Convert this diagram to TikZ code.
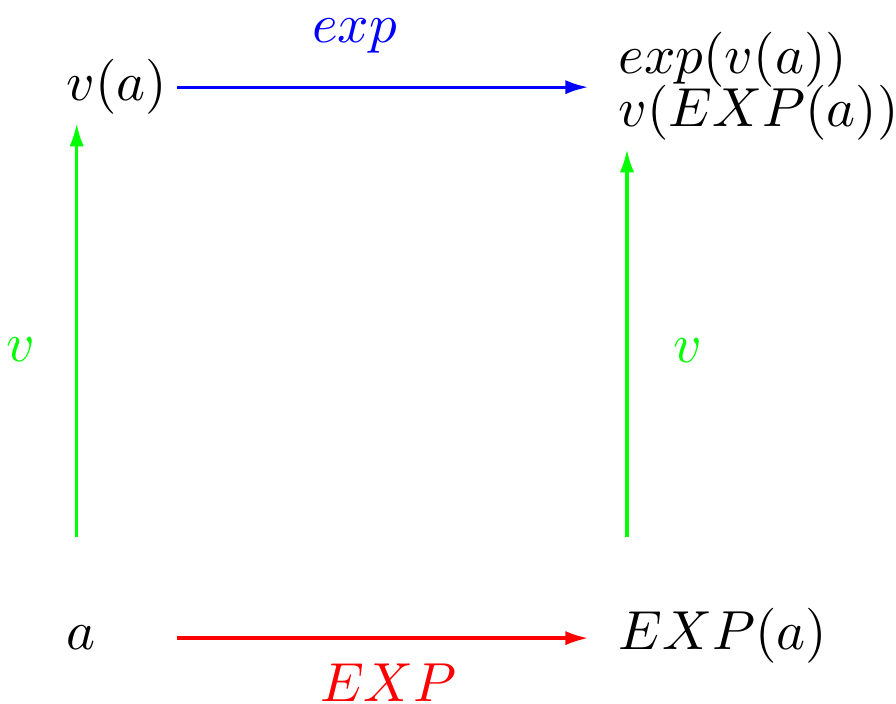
\documentclass[tikz,border=0pt]{standalone}
\usepackage{amsmath,amssymb}
\usepackage{xcolor}
\usepackage{tikz}
\usetikzlibrary{arrows.meta,positioning,calc}

\begin{document}
\begin{tikzpicture}[
    leftcol/.style={anchor=base west, text width=0.585cm},
    maparrow/.style={semithick, -{Latex[length=4.2pt, width=2.6pt]}},
    ]
    \useasboundingbox (0,0) rectangle (5.725,4.492);

    % Objects of the square
    \node[leftcol] (va) at (0.30,3.847) {$v(a)$};
    \node[leftcol] (a) at (0.30,0.339) {$a$};
    \node[anchor=north west, align=left] (top) at (3.83,4.413) {$exp(v(a))$\\[-2.2pt]$v(EXP(a))$};
    \node[anchor=base west] (EXPa) at (3.83,0.339) {$EXP(a)$};

    % Horizontal maps
    \draw[maparrow, blue, shorten >=2pt] (va.east) -- (va.east -| top.west)
        node[pos=0.42, above=0.09cm] (explbl) {$exp$};
    \draw[maparrow, red, shorten >=2pt] (a.east) -- (a.east -| EXPa.west)
        node[pos=0.5, below=0.04cm] (EXPlbl) {$EXP$};

    % Vertical maps
    \draw[maparrow, green, shorten <=0.446cm, shorten >=-0.07cm]
        ([xshift=0.19cm]a.north west) -- ([xshift=0.19cm]va.south west)
        node[pos=0.543, left=0.14cm] (vleft) {$v$};
    \draw[maparrow, green, shorten <=0.334cm, shorten >=-0.07cm]
        ([xshift=0.176cm]EXPa.north west) -- ([xshift=0.176cm]EXPa.north west |- top.south)
        node[pos=0.556, right=0.17cm] (vright) {$v$};
\end{tikzpicture}
\end{document}
